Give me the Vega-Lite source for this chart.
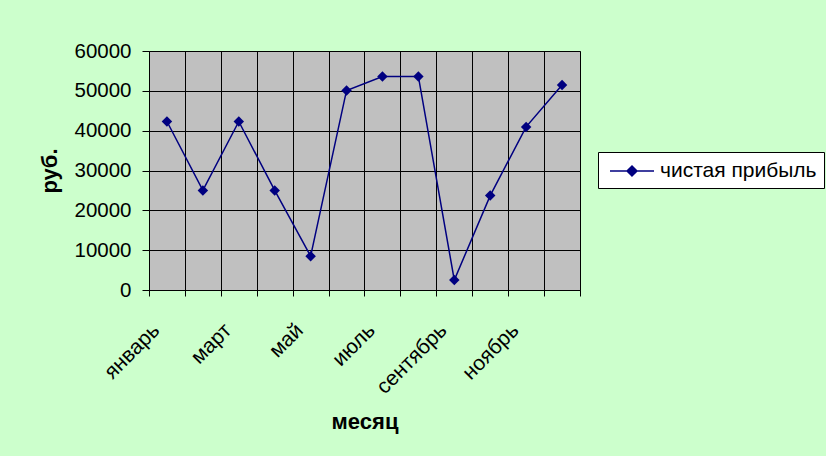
{
  "$schema": "https://vega.github.io/schema/vega-lite/v6.json",
  "width": 431,
  "height": 239,
  "autosize": {"type": "none"},
  "padding": {"left": 149, "top": 51, "right": 246, "bottom": 166},
  "background": "#CCFFCC",
  "data": {
    "values": [
      {"month": "январь", "profit": 42300},
      {"month": "февраль", "profit": 25000},
      {"month": "март", "profit": 42300},
      {"month": "апрель", "profit": 25000},
      {"month": "май", "profit": 8500},
      {"month": "июнь", "profit": 50100},
      {"month": "июль", "profit": 53600},
      {"month": "август", "profit": 53600},
      {"month": "сентябрь", "profit": 2500},
      {"month": "октябрь", "profit": 23700},
      {"month": "ноябрь", "profit": 40950},
      {"month": "декабрь", "profit": 51450}
    ]
  },
  "encoding": {
    "x": {
      "field": "month",
      "type": "ordinal",
      "sort": ["январь", "февраль", "март", "апрель", "май", "июнь", "июль", "август", "сентябрь", "октябрь", "ноябрь", "декабрь"],
      "scale": {"type": "band", "paddingInner": 0, "paddingOuter": 0},
      "axis": {
        "tickBand": "extent",
        "grid": true,
        "gridColor": "#000000",
        "gridWidth": 1,
        "gridOpacity": 1,
        "domainColor": "#000000",
        "tickColor": "#000000",
        "tickSize": 6,
        "labelAngle": -45,
        "labelAlign": "right",
        "labelBaseline": "middle",
        "labelPadding": 31,
        "labelOffset": -11,
        "labelExpr": "indexof(['январь','март','май','июль','сентябрь','ноябрь'], datum.value) >= 0 ? datum.value : ''",
        "labelFontSize": 21,
        "labelColor": "#000000",
        "labelFont": "Liberation Sans",
        "labelOverlap": false,
        "title": "месяц",
        "titleFont": "Liberation Sans",
        "titleFontSize": 22,
        "titleFontWeight": "bold",
        "titleColor": "#000000",
        "titlePadding": 14
      }
    },
    "y": {
      "field": "profit",
      "type": "quantitative",
      "scale": {"domain": [0, 60000], "nice": false},
      "axis": {
        "values": [0, 10000, 20000, 30000, 40000, 50000, 60000],
        "format": "d",
        "grid": true,
        "gridColor": "#000000",
        "gridWidth": 1,
        "gridOpacity": 1,
        "domainColor": "#000000",
        "tickColor": "#000000",
        "tickSize": 7,
        "labelPadding": 11,
        "labelFontSize": 20.5,
        "labelColor": "#000000",
        "labelFont": "Liberation Sans",
        "title": "руб.",
        "titleFont": "Liberation Sans",
        "titleFontSize": 22,
        "titleFontWeight": "bold",
        "titleColor": "#000000",
        "titlePadding": 12
      }
    },
    "color": {
      "datum": "чистая прибыль",
      "type": "nominal",
      "scale": {"range": ["#000080"]},
      "legend": {
        "orient": "none",
        "legendX": 449,
        "legendY": 101,
        "title": null,
        "fillColor": "#FFFFFF",
        "strokeColor": "#000000",
        "padding": 7,
        "symbolType": "M-2,0L2,0M0,-0.45L0.45,0L0,0.45L-0.45,0Z",
        "symbolSize": 484,
        "symbolStrokeWidth": 1.5,
        "symbolFillColor": "#000080",
        "symbolStrokeColor": "#000080",
        "symbolOffset": 15,
        "labelOffset": 16,
        "labelFontSize": 21,
        "labelColor": "#000000",
        "labelFont": "Liberation Sans"
      }
    }
  },
  "layer": [
    {"mark": {"type": "line", "strokeWidth": 1.5}},
    {"mark": {"type": "point", "shape": "diamond", "filled": true, "size": 110, "opacity": 1}}
  ],
  "config": {
    "view": {"fill": "#C0C0C0", "stroke": "#808080"},
    "font": "Liberation Sans"
  }
}
